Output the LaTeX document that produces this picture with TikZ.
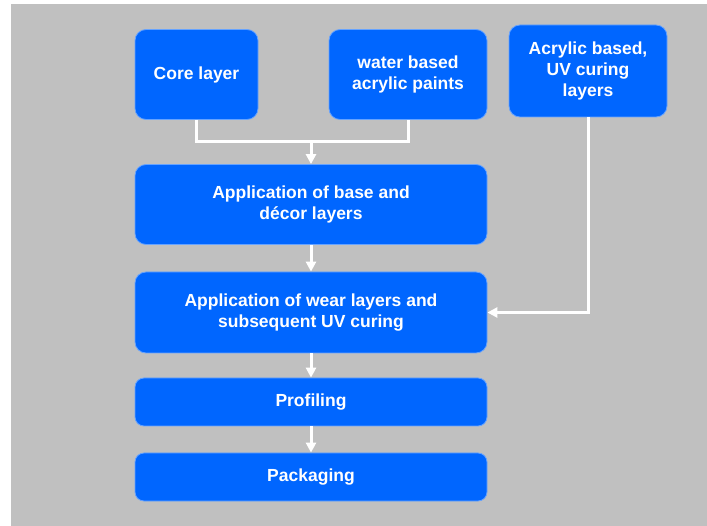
\documentclass[tikz,border=0pt]{standalone}
\usepackage{fontspec}
\setmainfont{Liberation Sans}
\usetikzlibrary{arrows.meta}
\definecolor{boxblue}{RGB}{0,102,255}
\definecolor{bggray}{RGB}{192,192,192}
\tikzset{
  stepbox/.style={rectangle, rounded corners=11pt, fill=boxblue,
    draw=boxblue!60!white, line width=0.8pt, text=white,
    font=\fontsize{17.5}{21}\selectfont\bfseries, align=center, inner sep=0pt},
  flow/.style={draw=white, line width=3pt},
  flowarrow/.style={flow, -{Triangle[width=10pt,length=10pt]}},
}
\begin{document}
\begin{tikzpicture}[x=1pt,y=-1pt]
  \useasboundingbox (0,0) rectangle (707,526);
  \fill[bggray] (11,4) rectangle (707,526);
  % input boxes
  \node[stepbox, minimum width=123pt, minimum height=90pt] (core) at (196.5,74.5) {Core layer};
  \node[stepbox, minimum width=158pt, minimum height=90pt] (water) at (408,74.5) {water based\\acrylic paints};
  \node[stepbox, minimum width=158pt, minimum height=92pt] (acryl) at (588,71) {Acrylic based,\\UV curing\\layers};
  % process steps
  \node[stepbox, minimum width=352pt, minimum height=80pt] (base) at (311,204.5) {Application of base and\\décor layers};
  \node[stepbox, minimum width=352pt, minimum height=81pt] (wear) at (311,312.5) {Application of wear layers and\\subsequent UV curing};
  \node[stepbox, rounded corners=9pt, minimum width=352pt, minimum height=48pt] (prof) at (311,402) {Profiling};
  \node[stepbox, rounded corners=9pt, minimum width=352pt, minimum height=48pt] (pack) at (311,477) {Packaging};
  % connectors
  \coordinate (join) at (311,142);
  \draw[flow] (core.south) |- (join) -| (water.south);
  \draw[flowarrow] (join) -- (base.north);
  \draw[flowarrow] (acryl.south) |- (wear.east);
  \foreach \a/\b in {base/wear, wear/prof, prof/pack} {
    \draw[flowarrow] (\a) -- (\b);
  }
\end{tikzpicture}
\end{document}
